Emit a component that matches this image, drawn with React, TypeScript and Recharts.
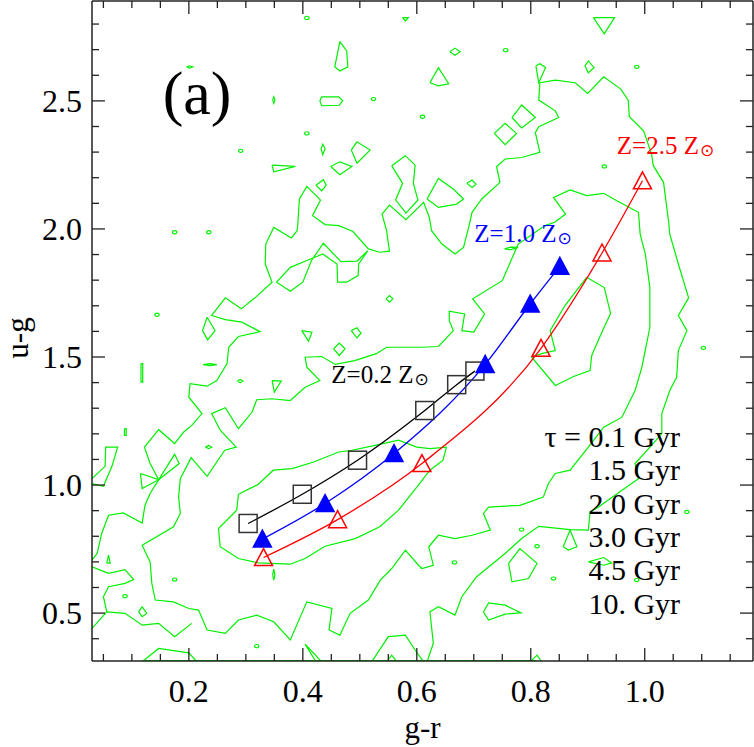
import { ComposedChart, Line, Scatter, XAxis, YAxis } from "recharts";

const SERIF = '"Liberation Serif", "Times New Roman", "DejaVu Serif", serif';
const AXIS = "#222";
const GREEN = "#00f000";

type P = { x: number; y: number };
const pts = (a: number[][]): P[] => a.map(([x, y]) => ({ x, y }));

// axis ticks (minor + major) and labelled values
const xTicks = [0.05, 0.1, 0.15, 0.2, 0.25, 0.3, 0.35, 0.4, 0.45, 0.5, 0.55, 0.6, 0.65, 0.7, 0.75, 0.8, 0.85, 0.9, 0.95, 1.0, 1.05, 1.1, 1.15];
const yTicks = [0.4, 0.5, 0.6, 0.7, 0.8, 0.9, 1.0, 1.1, 1.2, 1.3, 1.4, 1.5, 1.6, 1.7, 1.8, 1.9, 2.0, 2.1, 2.2, 2.3, 2.4, 2.5, 2.6, 2.7, 2.8];
const xLabels = [0.2, 0.4, 0.6, 0.8, 1.0];
const yLabels = [0.5, 1.0, 1.5, 2.0, 2.5];

// model tracks, one point per age (0.1, 1.5, 2.0, 3.0, 4.5, 10 Gyr)
const lowZ = pts([[0.304, 0.850], [0.399, 0.964], [0.496, 1.097], [0.614, 1.291], [0.670, 1.392], [0.702, 1.445]]);
const solarZ = pts([[0.329, 0.789], [0.439, 0.928], [0.560, 1.123], [0.720, 1.471], [0.799, 1.707], [0.851, 1.854]]);
const highZ = pts([[0.331, 0.717], [0.461, 0.865], [0.609, 1.084], [0.818, 1.534], [0.925, 1.906], [0.996, 2.188]]);

const ages = ["0.1 Gyr", "1.5 Gyr", "2.0 Gyr", "3.0 Gyr", "4.5 Gyr", "10. Gyr"];
const panelTag = [{ x: 0.154, y: 2.449, text: "(a)" }];
const lowZTag = [{ x: 0.450, y: 1.397, text: "Z=0.2 Z" }];
const solarZTag = [{ x: 0.701, y: 1.948, text: "Z=1.0 Z" }];
const highZTag = [{ x: 0.951, y: 2.292, text: "Z=2.5 Z" }];
const ageKey = [{ x: 1.062, y: 1.148 }];

// density contours of the galaxy sample
const contourOuter = pts([
  [0.030, 0.707], [0.039, 0.733], [0.047, 0.811], [0.059, 0.882], [0.085, 0.891], [0.118, 0.852], [0.123, 0.921],
  [0.132, 0.967], [0.147, 1.021], [0.132, 1.084], [0.122, 1.148], [0.147, 1.216], [0.175, 1.162], [0.191, 1.207],
  [0.205, 1.233], [0.223, 1.279], [0.200, 1.343], [0.202, 1.396], [0.232, 1.386], [0.249, 1.408], [0.267, 1.474],
  [0.270, 1.538], [0.287, 1.580], [0.325, 1.599], [0.293, 1.636], [0.264, 1.646], [0.240, 1.662], [0.264, 1.731],
  [0.292, 1.688], [0.316, 1.731], [0.346, 1.792], [0.334, 1.863], [0.335, 1.941], [0.349, 2.006], [0.380, 1.965],
  [0.390, 1.993], [0.391, 2.013], [0.394, 2.117], [0.407, 2.166], [0.431, 2.113], [0.417, 2.052], [0.439, 2.017],
  [0.463, 2.013], [0.488, 1.990], [0.515, 1.922], [0.535, 1.909], [0.552, 1.913], [0.547, 1.993], [0.539, 2.058],
  [0.552, 2.093], [0.581, 2.036], [0.612, 2.104], [0.622, 2.045], [0.626, 1.993], [0.644, 1.941], [0.667, 1.902],
  [0.682, 1.928], [0.691, 2.006], [0.697, 2.065], [0.714, 2.117], [0.746, 2.182], [0.740, 2.243], [0.755, 2.273],
  [0.784, 2.279], [0.816, 2.299], [0.808, 2.376], [0.814, 2.399], [0.849, 2.435], [0.843, 2.461], [0.814, 2.503],
  [0.816, 2.571], [0.843, 2.581], [0.878, 2.571], [0.900, 2.529], [0.928, 2.594], [0.958, 2.546], [0.971, 2.503],
  [0.973, 2.438], [0.998, 2.383], [1.012, 2.292], [1.015, 2.247], [1.033, 2.182], [1.042, 2.026], [1.044, 1.980],
  [1.059, 1.863], [1.077, 1.731], [1.059, 1.662], [1.074, 1.603], [1.059, 1.525], [1.056, 1.421], [1.044, 1.369],
  [1.030, 1.279], [1.030, 1.201], [1.012, 1.155], [0.983, 1.084], [0.989, 1.025], [0.960, 0.980], [0.919, 0.914],
  [0.904, 0.895], [0.901, 0.824], [0.869, 0.826], [0.814, 0.839], [0.784, 0.791], [0.755, 0.733], [0.705, 0.642],
  [0.679, 0.564], [0.667, 0.492], [0.638, 0.525], [0.623, 0.505], [0.629, 0.382], [0.623, 0.343], [0.618, 0.31],
]);
const contourRidge = pts([
  [0.495, 1.874], [0.467, 1.872], [0.436, 1.944], [0.415, 1.876], [0.400, 1.792], [0.378, 1.757], [0.354, 1.792],
  [0.378, 1.850], [0.404, 1.874], [0.435, 1.902], [0.460, 1.863], [0.461, 1.792], [0.477, 1.792], [0.497, 1.818],
  [0.498, 1.863], [0.514, 1.915], [0.495, 1.874],
]);
const contourMid = pts([
  [0.378, 1.330], [0.346, 1.337], [0.319, 1.333], [0.311, 1.285], [0.287, 1.220], [0.264, 1.302], [0.240, 1.279],
  [0.255, 1.214], [0.283, 1.148], [0.263, 1.136], [0.232, 1.034], [0.204, 1.107], [0.185, 1.025], [0.182, 0.953],
  [0.185, 0.889], [0.173, 0.837], [0.118, 0.765], [0.132, 0.700], [0.135, 0.616], [0.141, 0.551], [0.173, 0.544],
  [0.200, 0.518], [0.217, 0.512], [0.232, 0.434], [0.264, 0.421], [0.287, 0.473], [0.319, 0.492], [0.349, 0.466],
  [0.378, 0.395], [0.407, 0.544], [0.451, 0.518], [0.446, 0.434], [0.465, 0.414], [0.483, 0.499], [0.515, 0.551],
  [0.536, 0.629], [0.556, 0.674], [0.580, 0.746], [0.603, 0.687], [0.609, 0.674], [0.629, 0.687], [0.621, 0.759],
  [0.638, 0.804], [0.667, 0.791], [0.697, 0.804], [0.729, 0.824], [0.717, 0.889], [0.726, 0.914], [0.781, 0.921],
  [0.822, 0.953], [0.831, 1.006], [0.843, 1.045], [0.869, 1.058], [0.901, 1.148], [0.928, 1.226], [0.960, 1.265],
  [0.983, 1.369], [0.995, 1.460], [1.009, 1.616], [1.009, 1.772], [1.001, 1.902], [0.992, 1.980], [0.989, 2.065],
  [0.951, 2.110], [0.928, 2.139], [0.898, 2.130], [0.869, 2.152], [0.840, 2.123], [0.861, 2.058], [0.842, 2.026],
  [0.825, 2.013], [0.778, 1.941], [0.750, 1.798], [0.698, 1.727], [0.719, 1.668], [0.700, 1.597], [0.679, 1.603],
  [0.684, 1.668], [0.657, 1.679], [0.657, 1.642], [0.664, 1.603], [0.638, 1.541], [0.609, 1.538], [0.547, 1.538],
  [0.529, 1.513], [0.491, 1.486], [0.457, 1.471], [0.433, 1.502], [0.404, 1.499], [0.407, 1.460], [0.430, 1.408],
  [0.404, 1.382], [0.378, 1.330],
]);
const contourInner = pts([
  [0.287, 0.964], [0.322, 1.003], [0.348, 1.058], [0.381, 1.064], [0.419, 1.090], [0.463, 1.129], [0.486, 1.136],
  [0.527, 1.155], [0.568, 1.175], [0.600, 1.148], [0.623, 1.142], [0.652, 1.148], [0.646, 1.097], [0.623, 1.058],
  [0.600, 0.992], [0.568, 0.902], [0.535, 0.837], [0.492, 0.791], [0.439, 0.761], [0.404, 0.713], [0.378, 0.691],
  [0.322, 0.696], [0.287, 0.713], [0.255, 0.759], [0.252, 0.830], [0.284, 0.902], [0.287, 0.964],
]);
const contourRed = pts([
  [0.898, 1.811], [0.929, 1.771], [0.940, 1.670], [0.923, 1.588], [0.907, 1.506], [0.904, 1.447], [0.875, 1.424],
  [0.843, 1.389], [0.802, 1.498], [0.819, 1.513], [0.843, 1.525], [0.834, 1.603], [0.860, 1.701], [0.898, 1.811],
]);
const edgePieces = [
  [[0.030, 1.025], [0.053, 1.073], [0.054, 1.148], [0.075, 1.148], [0.065, 1.073], [0.050, 0.995], [0.030, 1.006]],
  [[0.030, 0.681], [0.059, 0.655], [0.088, 0.670], [0.103, 0.631], [0.088, 0.616], [0.059, 0.603], [0.050, 0.564], [0.056, 0.505], [0.030, 0.440]],
  [[0.056, 0.505], [0.088, 0.499], [0.118, 0.453], [0.147, 0.460], [0.175, 0.408], [0.205, 0.460]],
  [[0.118, 0.31], [0.147, 0.362], [0.200, 0.345], [0.214, 0.31]],
  [[0.423, 0.31], [0.404, 0.379], [0.433, 0.31]],
  [[0.521, 0.31], [0.550, 0.408], [0.580, 0.414], [0.597, 0.356], [0.612, 0.31]],
  [[0.547, 0.31], [0.556, 0.336], [0.565, 0.31]],
  [[0.799, 0.31], [0.811, 0.336], [0.819, 0.31]],
  [[0.118, 0.315], [0.810, 0.315]],
];
const islands = [
  [[0.465, 2.731], [0.477, 2.695], [0.479, 2.633], [0.465, 2.617], [0.456, 2.633], [0.465, 2.731]],
  [[0.433, 2.516], [0.463, 2.516], [0.470, 2.500], [0.464, 2.483], [0.433, 2.481], [0.430, 2.500], [0.433, 2.516]],
  [[0.485, 2.308], [0.495, 2.340], [0.518, 2.308], [0.495, 2.257], [0.485, 2.308]],
  [[0.346, 2.249], [0.387, 2.244], [0.349, 2.223], [0.346, 2.249]],
  [[0.449, 2.244], [0.465, 2.262], [0.486, 2.244], [0.465, 2.212], [0.449, 2.244]],
  [[0.423, 2.171], [0.436, 2.192], [0.441, 2.171], [0.433, 2.149], [0.423, 2.171]],
  [[0.556, 2.247], [0.580, 2.286], [0.597, 2.249], [0.594, 2.178], [0.602, 2.113], [0.581, 2.062], [0.563, 2.113], [0.575, 2.178], [0.556, 2.247]],
  [[0.575, 2.825], [0.585, 2.825], [0.580, 2.812], [0.575, 2.825]],
  [[0.910, 2.825], [0.947, 2.825], [0.929, 2.762], [0.910, 2.825]],
  [[0.658, 2.692], [0.667, 2.706], [0.676, 2.692], [0.667, 2.678], [0.658, 2.692]],
  [[0.623, 2.571], [0.638, 2.630], [0.656, 2.567], [0.638, 2.559], [0.623, 2.571]],
  [[0.809, 2.637], [0.816, 2.645], [0.826, 2.630], [0.814, 2.571], [0.809, 2.637]],
  [[0.895, 2.637], [0.901, 2.656], [0.911, 2.630], [0.901, 2.610], [0.895, 2.637]],
  [[0.767, 2.435], [0.784, 2.484], [0.808, 2.435], [0.784, 2.394], [0.767, 2.435]],
  [[0.736, 2.373], [0.755, 2.412], [0.775, 2.373], [0.755, 2.329], [0.736, 2.373]],
  [[0.688, 2.178], [0.697, 2.191], [0.704, 2.175], [0.697, 2.162], [0.688, 2.178]],
  [[0.618, 2.117], [0.638, 2.197], [0.664, 2.156], [0.682, 2.117], [0.670, 2.097], [0.638, 2.084], [0.618, 2.117]],
  [[0.115, 1.045], [0.147, 1.021], [0.118, 0.986], [0.115, 1.045]],
  [[0.147, 1.021], [0.175, 1.120], [0.183, 1.084], [0.147, 1.021]],
  [[0.232, 1.655], [0.246, 1.603], [0.233, 1.567], [0.224, 1.603], [0.232, 1.655]],
  [[0.346, 1.408], [0.362, 1.406], [0.350, 1.363], [0.346, 1.408]],
  [[0.398, 1.603], [0.416, 1.597], [0.410, 1.562], [0.398, 1.603]],
  [[0.485, 1.603], [0.495, 1.614], [0.502, 1.593], [0.495, 1.575], [0.485, 1.603]],
  [[0.454, 1.532], [0.464, 1.554], [0.474, 1.532], [0.464, 1.506], [0.454, 1.532]],
  [[0.546, 1.727], [0.552, 1.740], [0.558, 1.727], [0.552, 1.714], [0.546, 1.727]],
  [[0.116, 1.474], [0.119, 1.474], [0.119, 1.402], [0.116, 1.402], [0.116, 1.474]],
  [[0.225, 1.470], [0.237, 1.474], [0.249, 1.470], [0.237, 1.466], [0.225, 1.470]],
  [[0.285, 1.406], [0.290, 1.412], [0.295, 1.406], [0.290, 1.399], [0.285, 1.406]],
  [[0.857, 0.759], [0.869, 0.824], [0.881, 0.759], [0.866, 0.746], [0.857, 0.759]],
  [[0.761, 0.694], [0.781, 0.752], [0.811, 0.694], [0.796, 0.635], [0.767, 0.622], [0.761, 0.694]],
  [[0.717, 0.505], [0.726, 0.540], [0.755, 0.531], [0.783, 0.501], [0.755, 0.496], [0.726, 0.473], [0.717, 0.505]],
  [[0.901, 0.700], [0.928, 0.717], [0.942, 0.696], [0.928, 0.687], [0.901, 0.700]],
  [[0.056, 0.695], [0.059, 0.726], [0.062, 0.695], [0.056, 0.695]],
  [[0.118, 0.525], [0.126, 0.499], [0.118, 0.486], [0.112, 0.505], [0.118, 0.525]],
  [[0.087, 1.220], [0.090, 1.220], [0.090, 1.194], [0.087, 1.194], [0.087, 1.220]],
  [[0.229, 1.148], [0.235, 1.155], [0.240, 1.148], [0.235, 1.142], [0.229, 1.148]],
  [[0.754, 1.922], [0.765, 1.929], [0.778, 1.928], [0.765, 1.919], [0.754, 1.922]],
  [[0.432, 2.313], [0.435, 2.331], [0.439, 2.313], [0.435, 2.290], [0.432, 2.313]],
  [[0.347, 2.503], [0.349, 2.516], [0.351, 2.503], [0.349, 2.490], [0.347, 2.503]],
  [[0.196, 2.633], [0.201, 2.637], [0.207, 2.633], [0.201, 2.628], [0.196, 2.633]],
  [[0.347, 0.648], [0.349, 0.672], [0.351, 0.648], [0.349, 0.629], [0.347, 0.648]],
];
const specks = pts([
  [0.407, 2.824], [0.524, 2.507], [0.610, 2.438], [0.407, 2.373], [0.291, 2.305], [0.175, 1.987], [0.235, 1.987],
  [0.144, 1.665], [0.986, 2.633], [0.929, 2.244], [1.103, 1.536], [1.074, 0.895], [0.666, 0.698], [0.811, 0.761],
  [0.840, 0.635], [0.986, 0.629], [0.784, 0.826], [0.175, 0.631], [0.088, 0.566], [0.319, 0.371], [0.756, 2.698],
]);

const contours = [contourOuter, contourRidge, contourMid, contourInner, contourRed, ...edgePieces.map(pts), ...islands.map(pts)];

const isMajor = (v: number, majors: number[]) => majors.some((m) => Math.abs(m - v) < 1e-6);

const BottomTick = ({ x, y, payload }: any) => {
  const major = isMajor(payload.value, xLabels);
  return (
    <g>
      <line x1={x} y1={y} x2={x} y2={y - (major ? 13 : 7)} stroke={AXIS} strokeWidth={1.3} />
      {major && (
        <text x={x} y={y + 41} textAnchor="middle" fontSize={32} fontFamily={SERIF} fill="#000">
          {payload.value.toFixed(1)}
        </text>
      )}
    </g>
  );
};
const TopTick = ({ x, y, payload }: any) => {
  const major = isMajor(payload.value, xLabels);
  return <line x1={x} y1={y} x2={x} y2={y + (major ? 13 : 7)} stroke={AXIS} strokeWidth={1.3} />;
};
const LeftTick = ({ x, y, payload }: any) => {
  const major = isMajor(payload.value, yLabels);
  return (
    <g>
      <line x1={x} y1={y} x2={x + (major ? 13 : 7)} y2={y} stroke={AXIS} strokeWidth={1.3} />
      {major && (
        <text x={x - 10} y={y + 11} textAnchor="end" fontSize={32} fontFamily={SERIF} fill="#000">
          {payload.value.toFixed(1)}
        </text>
      )}
    </g>
  );
};
const RightTick = ({ x, y, payload }: any) => {
  const major = isMajor(payload.value, yLabels);
  return <line x1={x} y1={y} x2={x - (major ? 13 : 7)} y2={y} stroke={AXIS} strokeWidth={1.3} />;
};

const square = (p: any) => (
  <rect key={p.index} x={p.cx - 9} y={p.cy - 9} width={18} height={18} fill="none" stroke="#333" strokeWidth={1.5} />
);
const triangle = (fill: string, stroke: string) => (p: any) => (
  <polygon
    key={p.index}
    points={`${p.cx},${p.cy - 9} ${p.cx - 9},${p.cy + 8} ${p.cx + 9},${p.cy + 8}`}
    fill={fill}
    stroke={stroke}
    strokeWidth={1.5}
  />
);

const zText = (color: string) => (p: any) => (
  <text x={p.cx} y={p.cy} fontSize={25} fontFamily={SERIF} fill={color}>
    {p.payload.text}
    <tspan fontSize={17} dx={1} dy={2} fontFamily='"DejaVu Sans", sans-serif'>⊙</tspan>
  </text>
);

export default function App() {
  return (
    <div style={{ position: "absolute", left: 0, top: 0, background: "#fff" }}>
      <ComposedChart width={754} height={747} margin={{ top: 0, right: 0, bottom: 85, left: 0 }}>
        <XAxis
          dataKey="x"
          type="number"
          domain={[0.03, 1.19]}
          allowDataOverflow
          ticks={xTicks}
          interval={0}
          tickSize={0}
          tickMargin={0}
          tickLine={false}
          height={1}
          tick={BottomTick}
          axisLine={{ stroke: AXIS, strokeWidth: 1.5 }}
          label={(p: any) => (
            <text x={p.viewBox.x + p.viewBox.width / 2} y={p.viewBox.y + 77} textAnchor="middle" fontSize={31} fontFamily={SERIF} fill="#000">
              g-r
            </text>
          )}
        />
        <XAxis
          xAxisId="top"
          orientation="top"
          dataKey="x"
          type="number"
          domain={[0.03, 1.19]}
          allowDataOverflow
          ticks={xTicks}
          interval={0}
          tickSize={0}
          tickMargin={0}
          tickLine={false}
          height={1}
          tick={TopTick}
          axisLine={{ stroke: AXIS, strokeWidth: 1.5 }}
        />
        <YAxis
          dataKey="y"
          type="number"
          domain={[0.313, 2.89]}
          allowDataOverflow
          ticks={yTicks}
          interval={0}
          tickSize={0}
          tickMargin={0}
          tickLine={false}
          width={92}
          tick={LeftTick}
          axisLine={{ stroke: AXIS, strokeWidth: 1.5 }}
          label={(p: any) => (
            <text
              x={p.viewBox.x + 28}
              y={p.viewBox.y + 337}
              transform={`rotate(-90 ${p.viewBox.x + 28} ${p.viewBox.y + 337})`}
              textAnchor="middle"
              fontSize={31}
              fontFamily={SERIF}
              fill="#000"
            >
              u-g
            </text>
          )}
        />
        <YAxis
          yAxisId="right"
          orientation="right"
          dataKey="y"
          type="number"
          domain={[0.313, 2.89]}
          allowDataOverflow
          ticks={yTicks}
          interval={0}
          tickSize={0}
          tickMargin={0}
          tickLine={false}
          width={1}
          tick={RightTick}
          axisLine={{ stroke: AXIS, strokeWidth: 1.5 }}
        />

        {contours.map((c, i) => (
          <Line
            key={`c${i}`}
            data={c}
            dataKey="y"
            type="linear"
            stroke={GREEN}
            strokeWidth={1.2}
            dot={false}
            activeDot={false}
            legendType="none"
            isAnimationActive={false}
          />
        ))}
        <Scatter
          data={specks}
          isAnimationActive={false}
          shape={(p: any) => <ellipse cx={p.cx} cy={p.cy} rx={2.2} ry={1.6} fill="none" stroke={GREEN} strokeWidth={1.1} />}
        />

        <Line data={lowZ} dataKey="y" type="monotone" stroke="#000" strokeWidth={1.3} dot={square} activeDot={false} isAnimationActive={false} />
        <Line data={solarZ} dataKey="y" type="monotone" stroke="#0000ff" strokeWidth={1.3} dot={triangle("#0000ff", "#0000ff")} activeDot={false} isAnimationActive={false} />
        <Line data={highZ} dataKey="y" type="monotone" stroke="#ff0000" strokeWidth={1.3} dot={triangle("none", "#ff0000")} activeDot={false} isAnimationActive={false} />

        <Scatter
          data={panelTag}
          isAnimationActive={false}
          shape={(p: any) => (
            <text x={p.cx} y={p.cy} fontSize={62} fontFamily={SERIF} fill="#000">
              {p.payload.text}
            </text>
          )}
        />
        <Scatter data={lowZTag} isAnimationActive={false} shape={zText("#000")} />
        <Scatter data={solarZTag} isAnimationActive={false} shape={zText("#0000ff")} />
        <Scatter data={highZTag} isAnimationActive={false} shape={zText("#ff0000")} />
        <Scatter
          data={ageKey}
          isAnimationActive={false}
          shape={(p: any) => (
            <text x={p.cx} y={p.cy} textAnchor="end" fontSize={30} fontFamily={SERIF} fill="#000">
              {ages.map((a, i) => (
                <tspan key={a} x={p.cx} dy={i === 0 ? 0 : 33.3}>
                  {i === 0 ? `τ = ${a}` : a}
                </tspan>
              ))}
            </text>
          )}
        />
      </ComposedChart>
    </div>
  );
}
